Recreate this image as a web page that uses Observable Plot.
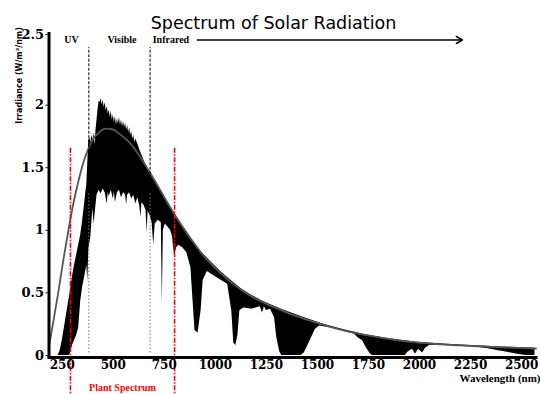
<!DOCTYPE html>
<html><head><meta charset="utf-8">
<script src="https://cdn.jsdelivr.net/npm/d3@7"></script>
<script src="https://cdn.jsdelivr.net/npm/@observablehq/plot@0.6"></script>
<style>html,body{margin:0;padding:0;background:#fff}svg{display:block}</style>
</head><body><div id="chart"></div>
<script>
// Top-of-atmosphere irradiance (black region upper edge)
const topNm = [250,260,270,280,290,300,310,320,330,340,350,360,370,375,380,385,390,395,400,405,410,415,420,425,430,435,440,445,450,455,460,465,470,475,480,485,490,495,500,505,510,515,520,525,530,535,540,545,550,555,560,565,570,575,580,585,590,595,600,605,610,615,620,625,630,640,650,660,670,680,690,700,720,740,760,780,800,820,850,900,950,1000,1050,1100,1150,1200,1250,1300,1350,1400,1450,1500,1550,1600,1650,1700,1750,1800,1850,1900,1950,2000,2100,2200,2300,2400,2500,2585];
const topVal = [0,0.04,0.12,0.22,0.32,0.42,0.52,0.63,0.72,0.80,0.88,0.96,1.08,1.15,1.22,1.30,1.36,1.55,1.72,1.74,1.70,1.76,1.72,1.78,1.68,1.80,1.88,1.96,2.03,2.02,2.05,2.00,2.04,1.98,2.02,1.95,1.99,1.93,1.96,1.90,1.95,1.88,1.92,1.86,1.91,1.84,1.89,1.85,1.90,1.84,1.88,1.83,1.87,1.82,1.86,1.80,1.84,1.78,1.82,1.76,1.79,1.73,1.76,1.70,1.73,1.69,1.64,1.60,1.56,1.52,1.49,1.47,1.41,1.36,1.30,1.24,1.19,1.13,1.06,0.94,0.83,0.745,0.665,0.595,0.53,0.48,0.435,0.40,0.365,0.335,0.305,0.278,0.25,0.228,0.205,0.187,0.167,0.153,0.14,0.128,0.118,0.108,0.095,0.085,0.077,0.07,0.064,0.058];
// Sea-level irradiance (white region upper edge)
const groundNm = [200,305,310,320,330,340,350,355,360,370,380,390,395,400,410,420,425,430,440,450,460,470,480,490,495,500,510,520,525,530,540,550,560,570,580,585,590,600,610,620,630,640,650,655,660,670,680,686,690,700,710,718,725,740,755,760,765,775,790,800,810,820,830,840,860,880,900,910,920,935,950,960,980,1000,1040,1080,1100,1110,1120,1130,1140,1160,1200,1240,1250,1260,1270,1290,1310,1320,1335,1345,1440,1455,1470,1490,1510,1530,1600,1700,1720,1740,1760,1780,1790,1950,1965,1985,2000,2015,2035,2050,2070,2100,2200,2300,2350,2400,2450,2500,2540];
const groundVal = [0,0,0.02,0.08,0.12,0.16,0.22,0.32,0.43,0.55,0.63,0.72,0.60,0.85,0.95,1.18,1.05,1.12,1.28,1.32,1.29,1.33,1.30,1.21,1.30,1.27,1.32,1.25,1.31,1.22,1.30,1.32,1.26,1.30,1.28,1.20,1.28,1.30,1.25,1.28,1.21,1.26,1.19,1.10,1.22,1.20,1.16,0.98,1.15,1.12,1.06,0.88,1.05,1.08,1.06,0.42,1.00,1.05,1.02,1.00,0.95,0.79,0.86,0.88,0.86,0.82,0.70,0.45,0.20,0.18,0.36,0.60,0.67,0.65,0.61,0.57,0.36,0.10,0.08,0.16,0.36,0.38,0.37,0.39,0.34,0.39,0.36,0.37,0.30,0.15,0.03,0,0,0.02,0.07,0.14,0.21,0.235,0.215,0.172,0.14,0.12,0.06,0.01,0,0,0.03,0.05,0.01,0.05,0.02,0.06,0.08,0.082,0.075,0.066,0.055,0.04,0.025,0.01,0];
// Blackbody curve (gray line)
const bbNm = [205,212,225,250,275,300,325,350,375,400,425,450,475,500,525,550,600,650,700,750,800,850,900,950,1000,1100,1200,1300,1400,1500,1600,1700,1800,1900,2000,2100,2200,2300,2400,2500,2590];
const bbVal = [0.08,0.14,0.26,0.50,0.76,1.00,1.22,1.40,1.55,1.66,1.74,1.78,1.81,1.81,1.80,1.77,1.70,1.59,1.46,1.32,1.18,1.05,0.93,0.82,0.73,0.58,0.47,0.39,0.325,0.27,0.22,0.18,0.15,0.125,0.105,0.092,0.082,0.074,0.067,0.061,0.056];

const xTicks = [250,500,750,1000,1250,1500,1750,2000,2250,2500];
const yTicks = [0,0.5,1,1.5,2];
const yTopTick = [2.5];
const bandNm = [400,700];
const plantNm = [310,820];
const regionLabels = ["UV","Visible","Infrared"];
const regionNm = [315,562,802];
const arrowNm = [932,2230];
const labelRowY = 2.52;

const idx = a => d3.range(a.length);
const serif = "DejaVu Serif";
const small = "Liberation Serif";
const fmt = d => String(d);

const chart = Plot.plot({
  width: 540, height: 394,
  marginLeft: 47.5, marginRight: 2.5, marginTop: 42, marginBottom: 39,
  x: {domain: [200, 2600]},
  y: {domain: [0, 2.5]},
  style: {background: "white", color: "black"},
  marks: [
    Plot.areaY(idx(topNm), {x: i => topNm[i], y: i => topVal[i], fill: "black"}),
    Plot.areaY(idx(groundNm), {x: i => groundNm[i], y: i => groundVal[i], fill: "white"}),
    Plot.line(idx(bbNm), {x: i => bbNm[i], y: i => bbVal[i], stroke: "#555", strokeWidth: 1.8, curve: "natural"}),
    Plot.ruleX(bandNm, {y1: 1.3, y2: 2.46, stroke: "black", strokeWidth: 1, strokeDasharray: "3,1.5"}),
    Plot.ruleX(bandNm, {y1: 0.02, y2: 1.3, stroke: "#777", strokeWidth: 1, strokeDasharray: "1.5,2"}),
    Plot.ruleX(plantNm, {y1: 1.655, y2: -0.4, stroke: "red", strokeWidth: 1.6, strokeDasharray: "5,1.5,1.5,1.5"}),
    Plot.ruleY([0], {x1: 200, x2: 2600, stroke: "black", strokeWidth: 3, dy: 2}),
    Plot.ruleX([200], {y1: -0.02, y2: 2.58, stroke: "black", strokeWidth: 3, dx: 1}),
    Plot.axisY(yTicks, {tickSize: 2, tickPadding: 2, fontSize: 13, fontFamily: serif, fontWeight: "bold", label: null, tickFormat: fmt}),
    Plot.axisY(yTopTick, {tickSize: 2, tickPadding: 2, fontSize: 13, fontFamily: serif, fontWeight: "bold", label: null, dy: -8, tickFormat: fmt}),
    Plot.axisX(xTicks, {tickSize: 0, tickPadding: 5, dx: 4, fontSize: 12, fontFamily: serif, fontWeight: "bold", label: null, tickFormat: fmt}),
    Plot.text(regionLabels, {x: (d, i) => regionNm[i], y: labelRowY, fontSize: 10, fontFamily: small, fontWeight: "bold"}),
    Plot.arrow([0], {x1: arrowNm[0], x2: arrowNm[1], y1: labelRowY, y2: labelRowY, stroke: "black", strokeWidth: 1.5, headLength: 7}),
    Plot.text(["Spectrum of Solar Radiation"], {frameAnchor: "top", dx: -19.5, dy: -26, fontSize: 17.5, fontFamily: "DejaVu Sans"}),
    Plot.text(["Irradiance (W/m²/nm)"], {frameAnchor: "top-left", textAnchor: "middle", dx: -31.5, dy: 33, rotate: -90, fontSize: 8, fontWeight: "bold", fontFamily: "DejaVu Sans"}),
    Plot.text(["Wavelength (nm)"], {frameAnchor: "bottom-right", dx: 2.5, dy: 26, textAnchor: "end", fontSize: 11, fontWeight: "bold", fontFamily: small}),
    Plot.text(["Plant Spectrum"], {x: d3.mean(plantNm), y: -0.26, fill: "red", fontSize: 10, fontWeight: "bold", fontFamily: small})
  ]
});
document.getElementById("chart").appendChild(chart);
</script>
</body></html>
